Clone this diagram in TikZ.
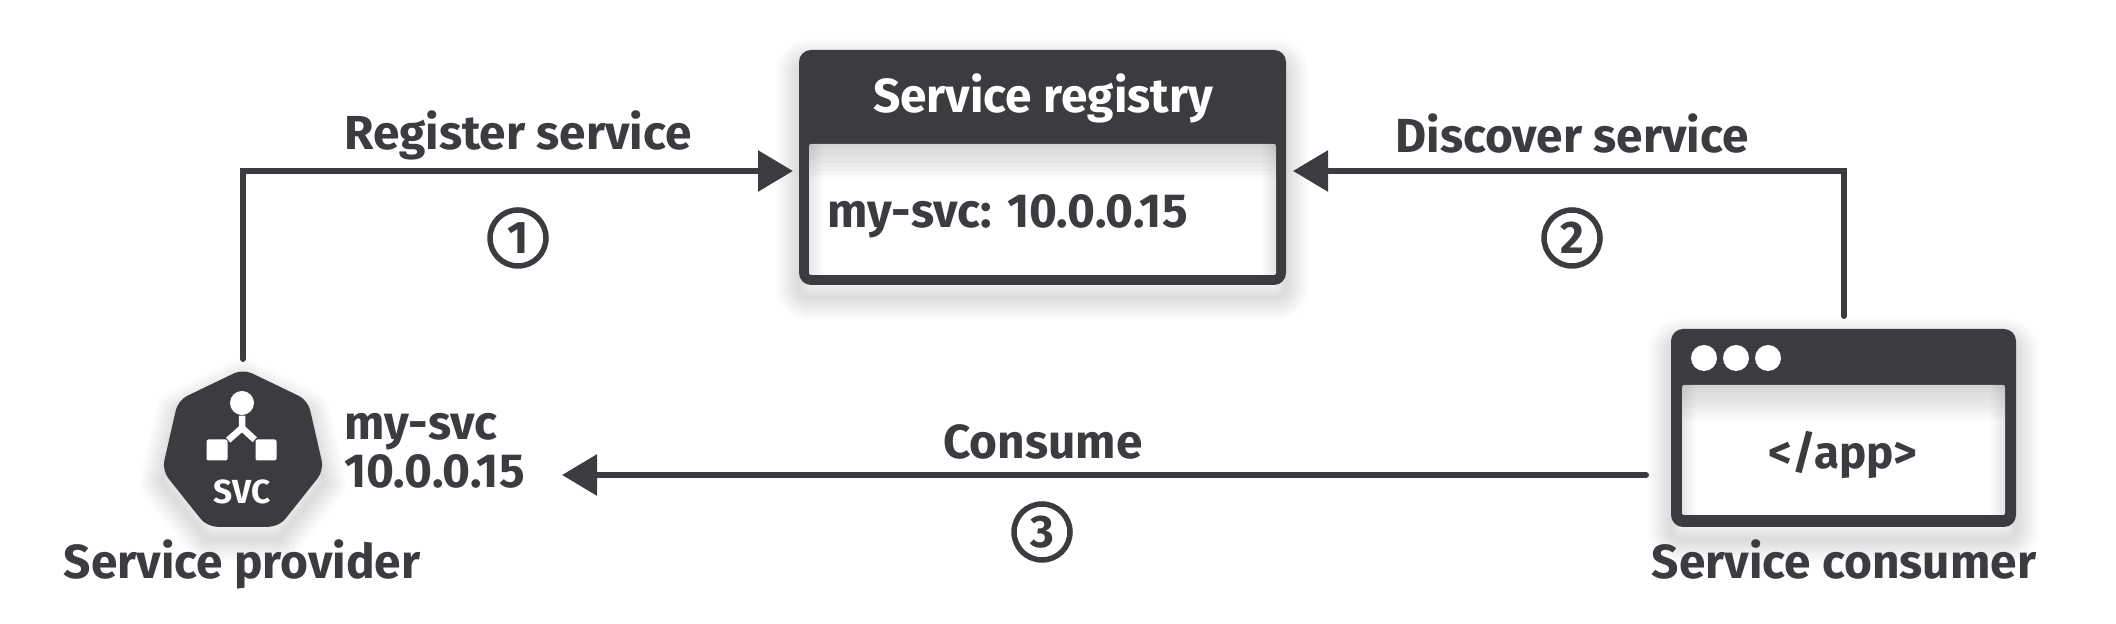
\documentclass[tikz,border=0pt]{standalone}
\usepackage{fontspec}
\setmainfont{Fira Sans}
\usetikzlibrary{shapes,positioning,calc,arrows.meta,backgrounds}
\definecolor{ink}{HTML}{3B3C40}
\tikzset{
    label/.style={text=ink, font=\fontsize{13.6}{13.6}\selectfont\bfseries},
    flow/.style={draw=ink, line width=0.06cm, line cap=round, -{Triangle[length=0.35cm,width=0.4cm]}},
    badge/.style={circle, draw=ink, line width=0.055cm, text=ink, minimum size=0.56cm, inner sep=0, font=\fontsize{13}{13}\selectfont\bfseries},
    panel/.style={rectangle, fill=ink, rounded corners=0.12cm, inner sep=0},
    pane/.style={rectangle, fill=white, rounded corners=0.02cm, inner sep=0},
    glow/.style={line join=round, ink, opacity=0.012},
    haze/.style={ink, opacity=0.022},
}
\begin{document}
\begin{tikzpicture}
    \useasboundingbox (0,0) rectangle (21.16,6.24);

    % Service registry
    \node[panel, minimum width=4.87cm, minimum height=2.35cm] (registry) at (10.425,4.565) {};
    \node[pane, minimum width=4.67cm, minimum height=1.31cm] (registrybody) at (10.425,4.145) {};
    \foreach \d in {0.04,0.08,...,0.4} {
        \fill[haze] (registrybody.north west) rectangle ($(registrybody.north east)+(0,-\d)$);
    }
    \foreach \d in {0.03,0.06,...,0.15} {
        \fill[haze] (registrybody.south west) rectangle ($(registrybody.north west)+(\d,0)$);
        \fill[haze] (registrybody.south east) rectangle ($(registrybody.north east)+(-\d,0)$);
    }
    \node[label, text=white, anchor=base] (registrytitle) at (10.43,5.11) {Service registry};
    \node[label, anchor=base west] (registryentry) at (8.15,3.96) {my-svc: 10.0.0.15};

    % Service provider
    \node[regular polygon, regular polygon sides=7, fill=ink, rounded corners=0.1cm, minimum size=1.66cm, inner sep=0, outer sep=0] (provider) at (2.43,1.72) {};
    \node[circle, fill=white, minimum size=0.24cm, inner sep=0] (icontop) at (2.42,2.21) {};
    \node[rectangle, fill=white, rounded corners=0.02cm, minimum size=0.21cm, inner sep=0] (iconleft) at (2.17,1.74) {};
    \node[rectangle, fill=white, rounded corners=0.02cm, minimum size=0.21cm, inner sep=0] (iconright) at (2.66,1.74) {};
    \coordinate (iconjoint) at (2.42,1.96);
    \draw[white, line width=0.065cm] (icontop) -- (iconjoint) -- (iconleft);
    \draw[white, line width=0.065cm] (iconjoint) -- (iconright);
    \node[text=white, font=\fontsize{9.5}{9.5}\selectfont\bfseries] (svc) at (2.42,1.32) {SVC};
    \node[label, anchor=west, align=left] (providerinfo) at (3.32,1.73) {my-svc\\10.0.0.15};
    \node[label, anchor=base] (providername) at (2.42,0.45) {Service provider};

    % Service consumer
    \node[panel, minimum width=3.45cm, minimum height=1.98cm] (consumer) at (18.435,1.96) {};
    \node[pane, minimum width=3.23cm, minimum height=1.30cm] (consumerbody) at (18.435,1.74) {};
    \foreach \d in {0.04,0.08,...,0.4} {
        \fill[haze] (consumerbody.north west) rectangle ($(consumerbody.north east)+(0,-\d)$);
    }
    \foreach \d in {0.03,0.06,...,0.15} {
        \fill[haze] (consumerbody.south west) rectangle ($(consumerbody.north west)+(\d,0)$);
        \fill[haze] (consumerbody.south east) rectangle ($(consumerbody.north east)+(-\d,0)$);
    }
    \foreach \x/\n in {17.04/a,17.36/b,17.68/c}
        \node[circle, fill=white, minimum size=0.26cm, inner sep=0] (dot\n) at (\x,2.66) {};
    \node[label, font=\fontsize{13}{13}\selectfont\bfseries] (app) at (18.43,1.69) {</app>};
    \node[label, anchor=base] (consumername) at (18.44,0.45) {Service consumer};

    % Soft shadows
    \begin{pgfonlayer}{background}
        \foreach \w in {0.03,0.06,...,0.45} {
            \draw[glow, line width=\w cm, rounded corners=0.12cm] ($(registry.south west)+(0,-0.12)$) rectangle ($(registry.north east)+(0,-0.12)$);
            \draw[glow, line width=\w cm, rounded corners=0.12cm] ($(consumer.south west)+(0,-0.12)$) rectangle ($(consumer.north east)+(0,-0.12)$);
            \draw[glow, line width=\w cm] ($(provider.corner 1)+(0,-0.12)$) -- ($(provider.corner 2)+(0,-0.12)$) -- ($(provider.corner 3)+(0,-0.12)$) -- ($(provider.corner 4)+(0,-0.12)$) -- ($(provider.corner 5)+(0,-0.12)$) -- ($(provider.corner 6)+(0,-0.12)$) -- ($(provider.corner 7)+(0,-0.12)$) -- cycle;
        }
    \end{pgfonlayer}

    % Free ends of the connectors
    \coordinate (registryleft) at (7.93,4.53);
    \coordinate (registryright) at (12.93,4.53);
    \coordinate (providerout) at (2.43,2.65);
    \coordinate (providerin) at (5.62,1.49);
    \coordinate (consumerup) at (18.44,3.08);
    \coordinate (consumerleft) at (16.46,1.49);

    % Connectors
    \draw[flow] (providerout) |- (registryleft);
    \draw[flow] (consumerup) |- (registryright);
    \draw[flow] (consumerleft) -- (providerin);

    % Labels on the connectors
    \node[label, anchor=base] (registerlabel) at (5.18,4.74) {Register service};
    \node[label, anchor=base] (discoverlabel) at (15.72,4.71) {Discover service};
    \node[label, anchor=base] (consumelabel) at (10.43,1.65) {Consume};

    % Step numbers
    \node[badge] (stepone) at (5.18,3.86) {1};
    \node[badge] (steptwo) at (15.72,3.86) {2};
    \node[badge] (stepthree) at (10.42,0.92) {3};
\end{tikzpicture}
\end{document}
